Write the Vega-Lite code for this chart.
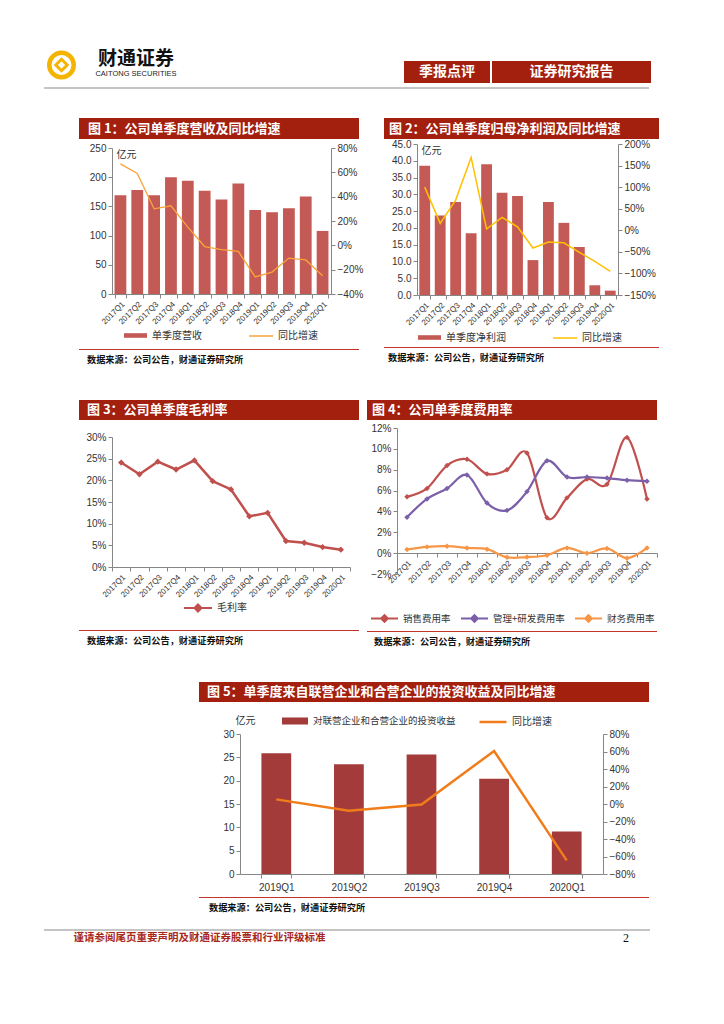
{
  "$schema": "https://vega.github.io/schema/vega-lite/v6.json",
  "background": "white",
  "padding": {"left": 40, "top": 43, "right": 0, "bottom": 0},
  "config": {
    "view": {"stroke": null},
    "font": "Liberation Sans",
    "axis": {"grid": false, "domainColor": "#868686", "tickColor": "#868686", "tickSize": 4, "labelFont": "Liberation Sans", "labelFontSize": 10, "labelColor": "#333333", "labelPadding": 2, "titleFont": "Noto Sans CJK SC", "titleFontWeight": "normal", "titleFontSize": 10, "titleColor": "#333333", "labelOverlap": false, "labelFlush": false},
    "legend": {"labelFont": "Noto Sans CJK SC", "labelFontSize": 10, "labelColor": "#333333", "orient": "bottom", "direction": "horizontal", "padding": 0, "columnPadding": 12, "labelLimit": 400,
      "layout": {"bottom": {"anchor": "middle", "margin": 46}, "top": {"anchor": "middle", "margin": 22}}},
    "text": {"font": "Noto Sans CJK SC"},
    "point": {"opacity": 1}
  },
  "spacing": 0,
  "bounds": "full",
  "resolve": {"scale": {"fill": "independent", "stroke": "independent", "color": "independent"}},
  "vconcat": [
    {
      "hconcat": [
        {"width": 35, "height": 40, "data": {"values": [{"k": "logo"}]}, "layer": [
          {"mark": {"type": "point", "shape": "circle", "size": 600, "strokeWidth": 4.5, "color": "#F5B400", "filled": false, "opacity": 1}},
          {"mark": {"type": "point", "shape": "diamond", "size": 130, "strokeWidth": 3, "color": "#F5B400", "filled": false, "opacity": 1}}
        ]},
        {"width": 8, "height": 40, "data": {"values": []}, "mark": "point"},
        {"width": 90, "height": 40, "layer": [
          {"data": {"values": [{"t": "财通证券"}]}, "mark": {"type": "text", "dy": -6, "font": "Noto Sans CJK SC", "fontSize": 19, "fontWeight": "bold", "color": "#111111"}, "encoding": {"text": {"field": "t"}}},
          {"data": {"values": [{"t": "CAITONG SECURITIES"}]}, "mark": {"type": "text", "dy": 9, "font": "Liberation Sans", "fontSize": 7.5, "color": "#222222"}, "encoding": {"text": {"field": "t"}}}
        ]},
        {"width": 223, "height": 40, "data": {"values": []}, "mark": "point"},
        {"vconcat": [
          {"width": 86, "height": 16, "data": {"values": []}, "mark": "point"},
          {"width": 86, "height": 22, "view": {"fill": "#A3200F", "stroke": null}, "data": {"values": [{"t": "季报点评"}]}, "mark": {"type": "text", "font": "Noto Sans CJK SC", "fontSize": 14, "fontWeight": "bold", "color": "#FFFFFF"}, "encoding": {"text": {"field": "t"}}}
        ], "spacing": 0, "bounds": "flush"},
        {"width": 2, "height": 40, "data": {"values": []}, "mark": "point"},
        {"vconcat": [
          {"width": 159, "height": 16, "data": {"values": []}, "mark": "point"},
          {"width": 159, "height": 22, "view": {"fill": "#A3200F", "stroke": null}, "data": {"values": [{"t": "证券研究报告"}]}, "mark": {"type": "text", "font": "Noto Sans CJK SC", "fontSize": 14, "fontWeight": "bold", "color": "#FFFFFF"}, "encoding": {"text": {"field": "t"}}}
        ], "spacing": 0, "bounds": "flush"}
      ],
      "spacing": 0, "bounds": "full"
    },
    {"width": 605, "height": 2, "view": {"fill": "#C4C4C4", "stroke": null}, "data": {"values": []}, "mark": "point"},
    {"width": 605, "height": 29, "data": {"values": []}, "mark": "point"},
    {
      "hconcat": [
        {"width": 35, "height": 10, "data": {"values": []}, "mark": "point"},
        {
          "vconcat": [
            {"width": 280, "height": 21, "view": {"fill": "#A3200F", "stroke": null}, "data": {"values": [{"t": "图 1：公司单季度营收及同比增速"}]}, "mark": {"type": "text", "align": "left", "dx": -131, "font": "Noto Sans CJK SC", "fontSize": 13, "fontWeight": "bold", "color": "#FFFFFF"}, "encoding": {"text": {"field": "t"}}},
            {"width": 280, "height": 4, "data": {"values": []}, "mark": "point"},
            {
              "hconcat": [
                {"width": 33, "height": 146, "data": {"values": []}, "mark": "point"},
                {
                  "width": 219, "height": 146,
                  "data": {"values": [
                    {"q": "2017Q1", "rev": 169, "yoy": 0.67},
                    {"q": "2017Q2", "rev": 178, "yoy": 0.59},
                    {"q": "2017Q3", "rev": 169, "yoy": 0.30},
                    {"q": "2017Q4", "rev": 200, "yoy": 0.325},
                    {"q": "2018Q1", "rev": 194, "yoy": 0.15},
                    {"q": "2018Q2", "rev": 177, "yoy": -0.01},
                    {"q": "2018Q3", "rev": 162, "yoy": -0.035},
                    {"q": "2018Q4", "rev": 189, "yoy": -0.05},
                    {"q": "2019Q1", "rev": 144, "yoy": -0.26},
                    {"q": "2019Q2", "rev": 140, "yoy": -0.22},
                    {"q": "2019Q3", "rev": 147, "yoy": -0.105},
                    {"q": "2019Q4", "rev": 167, "yoy": -0.12},
                    {"q": "2020Q1", "rev": 108, "yoy": -0.25}
                  ]},
                  "encoding": {"x": {"field": "q", "type": "nominal", "sort": null, "scale": {"paddingInner": 0.3, "paddingOuter": 0.15}, "axis": {"title": null, "labelAngle": -45, "labelFontSize": 8, "tickBand": "extent"}}},
                  "layer": [
                    {"mark": {"type": "bar"}, "encoding": {
                      "y": {"field": "rev", "type": "quantitative", "scale": {"domain": [0, 250], "nice": false}, "axis": {"values": [0, 50, 100, 150, 200, 250], "title": "亿元", "titleAngle": 0, "titleX": 4, "titleY": 1, "titleAlign": "left", "titleBaseline": "top"}},
                      "fill": {"datum": "单季度营收", "type": "nominal", "scale": {"range": ["#C35A55"]}, "legend": {"title": null, "symbolType": "M-1,-0.2L1,-0.2L1,0.2L-1,0.2Z", "symbolSize": 529, "offset": -3}}
                    }},
                    {"mark": {"type": "line", "strokeWidth": 1.3}, "encoding": {
                      "y": {"field": "yoy", "type": "quantitative", "scale": {"domain": [-0.4, 0.8], "nice": false}, "axis": {"orient": "right", "format": ".0%", "values": [-0.4, -0.2, 0, 0.2, 0.4, 0.6, 0.8], "title": null}},
                      "stroke": {"datum": "同比增速", "type": "nominal", "scale": {"range": ["#F9A33B"]}, "legend": {"title": null, "symbolSize": 576, "symbolStrokeWidth": 1.5, "offset": -3}}
                    }}
                  ],
                  "resolve": {"scale": {"y": "independent"}}
                }
              ],
              "spacing": 0, "bounds": "flush"
            },
            {"width": 280, "height": 8, "data": {"values": []}, "mark": "point"},
            {"width": 280, "height": 1, "view": {"fill": "#C4342A", "stroke": null}, "data": {"values": []}, "mark": "point"},
            {"width": 280, "height": 4, "data": {"values": []}, "mark": "point"},
            {"width": 280, "height": 12, "data": {"values": [{"t": "数据来源：公司公告，财通证券研究所"}]}, "mark": {"type": "text", "align": "left", "dx": -132, "font": "Noto Sans CJK SC", "fontSize": 9.2, "fontWeight": "bold", "color": "#111111"}, "encoding": {"text": {"field": "t"}}}
          ],
          "spacing": 0, "bounds": "full",
          "resolve": {"scale": {"fill": "independent", "stroke": "independent", "color": "independent"}}
        },
        {"width": 21, "height": 10, "data": {"values": []}, "mark": "point"},
        {
          "vconcat": [
            {"width": 275, "height": 21, "view": {"fill": "#A3200F", "stroke": null}, "data": {"values": [{"t": "图 2：公司单季度归母净利润及同比增速"}]}, "mark": {"type": "text", "align": "left", "dx": -132.5, "font": "Noto Sans CJK SC", "fontSize": 13, "fontWeight": "bold", "color": "#FFFFFF"}, "encoding": {"text": {"field": "t"}}},
            {
              "hconcat": [
                {"width": 33, "height": 151, "data": {"values": []}, "mark": "point"},
                {
                  "width": 201, "height": 151,
                  "data": {"values": [
                    {"q": "2017Q1", "np": 38.5, "yoy": 1.00},
                    {"q": "2017Q2", "np": 23.7, "yoy": 0.16},
                    {"q": "2017Q3", "np": 27.7, "yoy": 0.70},
                    {"q": "2017Q4", "np": 18.4, "yoy": 1.69},
                    {"q": "2018Q1", "np": 39.0, "yoy": 0.03},
                    {"q": "2018Q2", "np": 30.5, "yoy": 0.30},
                    {"q": "2018Q3", "np": 29.5, "yoy": 0.08},
                    {"q": "2018Q4", "np": 10.4, "yoy": -0.41},
                    {"q": "2019Q1", "np": 27.7, "yoy": -0.27},
                    {"q": "2019Q2", "np": 21.5, "yoy": -0.29},
                    {"q": "2019Q3", "np": 14.3, "yoy": -0.51},
                    {"q": "2019Q4", "np": 2.9, "yoy": -0.72},
                    {"q": "2020Q1", "np": 1.3, "yoy": -0.95}
                  ]},
                  "encoding": {"x": {"field": "q", "type": "nominal", "sort": null, "scale": {"paddingInner": 0.3, "paddingOuter": 0.15}, "axis": {"title": null, "labelAngle": -45, "labelFontSize": 8, "tickBand": "extent"}}},
                  "layer": [
                    {"mark": {"type": "bar"}, "encoding": {
                      "y": {"field": "np", "type": "quantitative", "scale": {"domain": [0, 45], "nice": false}, "axis": {"values": [0, 5, 10, 15, 20, 25, 30, 35, 40, 45], "format": ".1f", "title": "亿元", "titleAngle": 0, "titleX": 4, "titleY": 1, "titleAlign": "left", "titleBaseline": "top"}},
                      "fill": {"datum": "单季度净利润", "type": "nominal", "scale": {"range": ["#C35A55"]}, "legend": {"title": null, "symbolType": "M-1,-0.2L1,-0.2L1,0.2L-1,0.2Z", "symbolSize": 529, "offset": -2}}
                    }},
                    {"mark": {"type": "line", "strokeWidth": 1.5}, "encoding": {
                      "y": {"field": "yoy", "type": "quantitative", "scale": {"domain": [-1.5, 2], "nice": false}, "axis": {"orient": "right", "format": ".0%", "values": [-1.5, -1, -0.5, 0, 0.5, 1, 1.5, 2], "title": null}},
                      "stroke": {"datum": "同比增速", "type": "nominal", "scale": {"range": ["#FFC000"]}, "legend": {"title": null, "symbolSize": 576, "symbolStrokeWidth": 1.5, "offset": -2}}
                    }}
                  ],
                  "resolve": {"scale": {"y": "independent"}}
                }
              ],
              "spacing": 0, "bounds": "flush"
            },
            {"width": 275, "height": 4, "data": {"values": []}, "mark": "point"},
            {"width": 275, "height": 1, "view": {"fill": "#C4342A", "stroke": null}, "data": {"values": []}, "mark": "point"},
            {"width": 275, "height": 4, "data": {"values": []}, "mark": "point"},
            {"width": 275, "height": 12, "data": {"values": [{"t": "数据来源：公司公告，财通证券研究所"}]}, "mark": {"type": "text", "align": "left", "dx": -133.5, "font": "Noto Sans CJK SC", "fontSize": 9.2, "fontWeight": "bold", "color": "#111111"}, "encoding": {"text": {"field": "t"}}}
          ],
          "spacing": 0, "bounds": "full",
          "resolve": {"scale": {"fill": "independent", "stroke": "independent", "color": "independent"}}
        }
      ],
      "spacing": 0, "bounds": "full",
      "resolve": {"scale": {"fill": "independent", "stroke": "independent", "color": "independent"}}
    },
    {"width": 605, "height": 34, "data": {"values": []}, "mark": "point"},
    {
      "hconcat": [
        {"width": 35, "height": 10, "data": {"values": []}, "mark": "point"},
        {
          "vconcat": [
            {"width": 280, "height": 20, "view": {"fill": "#A3200F", "stroke": null}, "data": {"values": [{"t": "图 3：公司单季度毛利率"}]}, "mark": {"type": "text", "align": "left", "dx": -132, "font": "Noto Sans CJK SC", "fontSize": 13, "fontWeight": "bold", "color": "#FFFFFF"}, "encoding": {"text": {"field": "t"}}},
            {"width": 280, "height": 12, "data": {"values": []}, "mark": "point"},
            {
              "hconcat": [
                {"width": 33, "height": 130, "data": {"values": []}, "mark": "point"},
                {
                  "width": 238, "height": 130,
                  "data": {"values": [
                    {"q": "2017Q1", "gm": 0.241},
                    {"q": "2017Q2", "gm": 0.214},
                    {"q": "2017Q3", "gm": 0.243},
                    {"q": "2017Q4", "gm": 0.225},
                    {"q": "2018Q1", "gm": 0.246},
                    {"q": "2018Q2", "gm": 0.198},
                    {"q": "2018Q3", "gm": 0.179},
                    {"q": "2018Q4", "gm": 0.117},
                    {"q": "2019Q1", "gm": 0.125},
                    {"q": "2019Q2", "gm": 0.060},
                    {"q": "2019Q3", "gm": 0.056},
                    {"q": "2019Q4", "gm": 0.046},
                    {"q": "2020Q1", "gm": 0.040}
                  ]},
                  "encoding": {
                    "x": {"field": "q", "type": "nominal", "sort": null, "scale": {"type": "band", "paddingInner": 0, "paddingOuter": 0}, "axis": {"title": null, "labelAngle": -45, "labelFontSize": 8, "tickBand": "extent"}},
                    "y": {"field": "gm", "type": "quantitative", "scale": {"domain": [0, 0.3], "nice": false}, "axis": {"values": [0, 0.05, 0.1, 0.15, 0.2, 0.25, 0.3], "format": ".0%", "title": null}},
                    "color": {"datum": "毛利率", "type": "nominal", "scale": {"range": ["#C0504D"]}, "legend": {"title": null, "symbolType": "M-1,0L1,0M-0.25,0L0,-0.25L0.25,0L0,0.25Z", "symbolSize": 784, "symbolStrokeWidth": 2, "offset": -6}}
                  },
                  "layer": [
                    {"mark": {"type": "line", "strokeWidth": 2.5}},
                    {"mark": {"type": "point", "shape": "diamond", "filled": true, "size": 40, "opacity": 1}}
                  ]
                }
              ],
              "spacing": 0, "bounds": "flush"
            },
            {"width": 280, "height": 14, "data": {"values": []}, "mark": "point"},
            {"width": 280, "height": 1, "view": {"fill": "#C4342A", "stroke": null}, "data": {"values": []}, "mark": "point"},
            {"width": 280, "height": 4, "data": {"values": []}, "mark": "point"},
            {"width": 280, "height": 12, "data": {"values": [{"t": "数据来源：公司公告，财通证券研究所"}]}, "mark": {"type": "text", "align": "left", "dx": -132, "font": "Noto Sans CJK SC", "fontSize": 9.2, "fontWeight": "bold", "color": "#111111"}, "encoding": {"text": {"field": "t"}}}
          ],
          "spacing": 0, "bounds": "full",
          "resolve": {"scale": {"fill": "independent", "stroke": "independent", "color": "independent"}}
        },
        {"width": 8, "height": 10, "data": {"values": []}, "mark": "point"},
        {
          "vconcat": [
            {"width": 290, "height": 20, "view": {"fill": "#A3200F", "stroke": null}, "data": {"values": [{"t": "图 4：公司单季度费用率"}]}, "mark": {"type": "text", "align": "left", "dx": -140, "font": "Noto Sans CJK SC", "fontSize": 13, "fontWeight": "bold", "color": "#FFFFFF"}, "encoding": {"text": {"field": "t"}}},
            {"width": 290, "height": 3, "data": {"values": []}, "mark": "point"},
            {
              "hconcat": [
                {"width": 30, "height": 146, "data": {"values": []}, "mark": "point"},
                {
                  "width": 260, "height": 146,
                  "data": {"values": [
                    {"q": "2017Q1", "s": "销售费用率", "v": 0.054},
                    {"q": "2017Q2", "s": "销售费用率", "v": 0.062},
                    {"q": "2017Q3", "s": "销售费用率", "v": 0.084},
                    {"q": "2017Q4", "s": "销售费用率", "v": 0.090},
                    {"q": "2018Q1", "s": "销售费用率", "v": 0.076},
                    {"q": "2018Q2", "s": "销售费用率", "v": 0.080},
                    {"q": "2018Q3", "s": "销售费用率", "v": 0.096},
                    {"q": "2018Q4", "s": "销售费用率", "v": 0.034},
                    {"q": "2019Q1", "s": "销售费用率", "v": 0.053},
                    {"q": "2019Q2", "s": "销售费用率", "v": 0.071},
                    {"q": "2019Q3", "s": "销售费用率", "v": 0.066},
                    {"q": "2019Q4", "s": "销售费用率", "v": 0.111},
                    {"q": "2020Q1", "s": "销售费用率", "v": 0.052},
                    {"q": "2017Q1", "s": "管理+研发费用率", "v": 0.0345},
                    {"q": "2017Q2", "s": "管理+研发费用率", "v": 0.052},
                    {"q": "2017Q3", "s": "管理+研发费用率", "v": 0.062},
                    {"q": "2017Q4", "s": "管理+研发费用率", "v": 0.075},
                    {"q": "2018Q1", "s": "管理+研发费用率", "v": 0.048},
                    {"q": "2018Q2", "s": "管理+研发费用率", "v": 0.041},
                    {"q": "2018Q3", "s": "管理+研发费用率", "v": 0.059},
                    {"q": "2018Q4", "s": "管理+研发费用率", "v": 0.0885},
                    {"q": "2019Q1", "s": "管理+研发费用率", "v": 0.073},
                    {"q": "2019Q2", "s": "管理+研发费用率", "v": 0.073},
                    {"q": "2019Q3", "s": "管理+研发费用率", "v": 0.072},
                    {"q": "2019Q4", "s": "管理+研发费用率", "v": 0.070},
                    {"q": "2020Q1", "s": "管理+研发费用率", "v": 0.069},
                    {"q": "2017Q1", "s": "财务费用率", "v": 0.0035},
                    {"q": "2017Q2", "s": "财务费用率", "v": 0.006},
                    {"q": "2017Q3", "s": "财务费用率", "v": 0.0067},
                    {"q": "2017Q4", "s": "财务费用率", "v": 0.005},
                    {"q": "2018Q1", "s": "财务费用率", "v": 0.0038},
                    {"q": "2018Q2", "s": "财务费用率", "v": -0.004},
                    {"q": "2018Q3", "s": "财务费用率", "v": -0.0038},
                    {"q": "2018Q4", "s": "财务费用率", "v": -0.002},
                    {"q": "2019Q1", "s": "财务费用率", "v": 0.005},
                    {"q": "2019Q2", "s": "财务费用率", "v": 0.0},
                    {"q": "2019Q3", "s": "财务费用率", "v": 0.0045},
                    {"q": "2019Q4", "s": "财务费用率", "v": -0.0048},
                    {"q": "2020Q1", "s": "财务费用率", "v": 0.005}
                  ]},
                  "encoding": {
                    "x": {"field": "q", "type": "nominal", "sort": null, "scale": {"type": "band", "paddingInner": 0, "paddingOuter": 0}, "axis": {"title": null, "labelAngle": -45, "labelFontSize": 8, "tickBand": "extent", "offset": -21}},
                    "y": {"field": "v", "type": "quantitative", "scale": {"domain": [-0.02, 0.12], "nice": false}, "axis": {"values": [-0.02, 0, 0.02, 0.04, 0.06, 0.08, 0.1, 0.12], "format": ".0%", "title": null}},
                    "color": {"field": "s", "type": "nominal", "sort": ["销售费用率", "管理+研发费用率", "财务费用率"], "scale": {"domain": ["销售费用率", "管理+研发费用率", "财务费用率"], "range": ["#C0504D", "#7B5FA8", "#F79646"]}, "legend": {"title": null, "symbolType": "M-1,0L1,0M-0.25,0L0,-0.25L0.25,0L0,0.25Z", "symbolSize": 729, "symbolStrokeWidth": 2, "offset": 19, "columnPadding": 6, "labelFontSize": 9.5}}
                  },
                  "layer": [
                    {"mark": {"type": "line", "strokeWidth": 2.2, "interpolate": "cardinal"}},
                    {"mark": {"type": "point", "shape": "diamond", "filled": true, "size": 30, "opacity": 1}}
                  ]
                }
              ],
              "spacing": 0, "bounds": "flush"
            },
            {"width": 290, "height": 5, "data": {"values": []}, "mark": "point"},
            {"width": 290, "height": 1, "view": {"fill": "#C4342A", "stroke": null}, "data": {"values": []}, "mark": "point"},
            {"width": 290, "height": 4, "data": {"values": []}, "mark": "point"},
            {"width": 290, "height": 12, "data": {"values": [{"t": "数据来源：公司公告，财通证券研究所"}]}, "mark": {"type": "text", "align": "left", "dx": -138, "font": "Noto Sans CJK SC", "fontSize": 9.2, "fontWeight": "bold", "color": "#111111"}, "encoding": {"text": {"field": "t"}}}
          ],
          "spacing": 0, "bounds": "full",
          "resolve": {"scale": {"fill": "independent", "stroke": "independent", "color": "independent"}}
        }
      ],
      "spacing": 0, "bounds": "full",
      "resolve": {"scale": {"fill": "independent", "stroke": "independent", "color": "independent"}}
    },
    {"width": 605, "height": 34, "data": {"values": []}, "mark": "point"},
    {
      "hconcat": [
        {"width": 155, "height": 10, "data": {"values": []}, "mark": "point"},
        {
          "vconcat": [
            {"width": 450, "height": 20, "view": {"fill": "#A3200F", "stroke": null}, "data": {"values": [{"t": "图 5：单季度来自联营企业和合营企业的投资收益及同比增速"}]}, "mark": {"type": "text", "align": "left", "dx": -217, "font": "Noto Sans CJK SC", "fontSize": 13, "fontWeight": "bold", "color": "#FFFFFF"}, "encoding": {"text": {"field": "t"}}},
            {"width": 450, "height": 5, "data": {"values": []}, "mark": "point"},
            {
              "hconcat": [
                {"width": 41, "height": 140, "data": {"values": []}, "mark": "point"},
                {
                  "width": 363, "height": 140,
                  "data": {"values": [
                    {"q": "2019Q1", "inv": 25.9, "yoy": 0.053},
                    {"q": "2019Q2", "inv": 23.5, "yoy": -0.076},
                    {"q": "2019Q3", "inv": 25.6, "yoy": -0.005},
                    {"q": "2019Q4", "inv": 20.4, "yoy": 0.606},
                    {"q": "2020Q1", "inv": 9.1, "yoy": -0.644}
                  ]},
                  "encoding": {"x": {"field": "q", "type": "nominal", "sort": null, "scale": {"paddingInner": 0.59, "paddingOuter": 0.295}, "axis": {"title": null, "labelAngle": 0, "labelFontSize": 10, "tickBand": "extent", "labelPadding": 4}}},
                  "layer": [
                    {"mark": {"type": "bar"}, "encoding": {
                      "y": {"field": "inv", "type": "quantitative", "scale": {"domain": [0, 30], "nice": false}, "axis": {"values": [0, 5, 10, 15, 20, 25, 30], "title": "亿元", "titleAngle": 0, "titleX": -5, "titleY": -14, "titleAlign": "left", "titleBaseline": "middle"}},
                      "fill": {"datum": "对联营企业和合营企业的投资收益", "type": "nominal", "scale": {"range": ["#A23B3A"]}, "legend": {"title": null, "orient": "top", "symbolType": "M-1,-0.27L1,-0.27L1,0.27L-1,0.27Z", "symbolSize": 676, "offset": -12, "labelFontSize": 9.5}}
                    }},
                    {"mark": {"type": "line", "strokeWidth": 2.5}, "encoding": {
                      "y": {"field": "yoy", "type": "quantitative", "scale": {"domain": [-0.8, 0.8], "nice": false}, "axis": {"orient": "right", "format": ".0%", "values": [-0.8, -0.6, -0.4, -0.2, 0, 0.2, 0.4, 0.6, 0.8], "title": null}},
                      "stroke": {"datum": "同比增速", "type": "nominal", "scale": {"range": ["#F07D1A"]}, "legend": {"title": null, "orient": "top", "symbolSize": 729, "symbolStrokeWidth": 2.5, "offset": -12}}
                    }}
                  ],
                  "resolve": {"scale": {"y": "independent"}}
                }
              ],
              "spacing": 0, "bounds": "flush"
            },
            {"width": 450, "height": 5, "data": {"values": []}, "mark": "point"},
            {"width": 450, "height": 1, "view": {"fill": "#C4342A", "stroke": null}, "data": {"values": []}, "mark": "point"},
            {"width": 450, "height": 4, "data": {"values": []}, "mark": "point"},
            {"width": 450, "height": 12, "data": {"values": [{"t": "数据来源：公司公告，财通证券研究所"}]}, "mark": {"type": "text", "align": "left", "dx": -215, "font": "Noto Sans CJK SC", "fontSize": 9.2, "fontWeight": "bold", "color": "#111111"}, "encoding": {"text": {"field": "t"}}}
          ],
          "spacing": 0, "bounds": "full",
          "resolve": {"scale": {"fill": "independent", "stroke": "independent", "color": "independent"}}
        }
      ],
      "spacing": 0, "bounds": "full",
      "resolve": {"scale": {"fill": "independent", "stroke": "independent", "color": "independent"}}
    },
    {"width": 605, "height": 15, "data": {"values": []}, "mark": "point"},
    {"width": 606, "height": 2, "view": {"fill": "#C4C4C4", "stroke": null}, "data": {"values": []}, "mark": "point"},
    {"width": 606, "height": 1, "data": {"values": []}, "mark": "point"},
    {
      "hconcat": [
        {"width": 23, "height": 12, "data": {"values": []}, "mark": "point"},
        {"width": 265, "height": 12, "data": {"values": [{"t": "谨请参阅尾页重要声明及财通证券股票和行业评级标准"}]}, "mark": {"type": "text", "font": "Noto Sans CJK SC", "fontSize": 10.5, "fontWeight": "bold", "color": "#A8281C"}, "encoding": {"text": {"field": "t"}}},
        {"width": 289, "height": 12, "data": {"values": []}, "mark": "point"},
        {"width": 10, "height": 12, "data": {"values": [{"t": "2"}]}, "mark": {"type": "text", "font": "Liberation Serif", "fontSize": 12, "color": "#111111"}, "encoding": {"text": {"field": "t"}}}
      ],
      "spacing": 0, "bounds": "flush"
    }
  ]
}
